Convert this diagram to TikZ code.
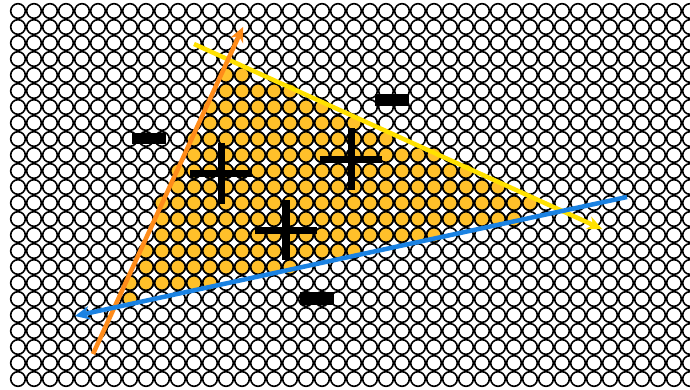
\documentclass[tikz,border=0pt]{standalone}
\definecolor{cellfill}{HTML}{FFC02A}
\definecolor{orangeline}{HTML}{FF8C1A}
\definecolor{yellowline}{HTML}{FFE100}
\definecolor{blueline}{HTML}{1A82E2}
\begin{document}
\begin{tikzpicture}[x=1pt,y=-1pt,
  cell/.style={draw=black,line width=1.6pt,fill=white},
  cellin/.style={draw=black,line width=1.6pt,fill=cellfill},
  ray/.style={line width=4.5pt},
  bar/.style={fill=black}]
\useasboundingbox (0,0) rectangle (690,390);
\clip (0,0) rectangle (690,390);
\fill[white] (0,0) rectangle (690,390);
% grid of circles
\foreach \c in {0,...,42}{\foreach \r in {0,...,23}{\draw[cell] (18+16*\c,11+16*\r) circle[radius=7.3];}}
% filled circles inside the triangle: row/first column/last column
\foreach \r/\a/\b in {4/13/14,5/13/17,6/12/19,7/12/21,8/11/23,9/11/26,10/10/28,11/10/30,12/9/32,13/9/31,14/9/26,15/8/21,16/8/17,17/7/12,18/7/7}{
  \foreach \c in {\a,...,\b}{\draw[cellin] (18+16*\c,11+16*\r) circle[radius=7.3];}}
% line tails, tips and arrow head points
\coordinate (o1) at (93,354);
\coordinate (o2) at (243,27);
\coordinate (oin) at (238.83,36.09);
\coordinate (ol) at (243.11,43.55);
\coordinate (or) at (230.39,37.71);
\coordinate (y1) at (194,44);
\coordinate (y2) at (602,229);
\coordinate (yin) at (592.89,224.87);
\coordinate (yl) at (591.23,216.44);
\coordinate (yr) at (585.45,229.18);
\coordinate (b1) at (627,197);
\coordinate (b2) at (75,316);
\coordinate (bin) at (84.78,313.89);
\coordinate (bl) at (91.13,319.68);
\coordinate (br) at (88.19,306.0);
\draw[ray,yellowline] (y1) -- (yin);
\fill[yellowline] (y2) -- (yl) -- (yin) -- (yr) -- cycle;
\draw[ray,orangeline] (o1) -- (oin);
\fill[orangeline] (o2) -- (ol) -- (oin) -- (or) -- cycle;
\draw[ray,blueline] (b1) -- (bin);
\fill[blueline] (b2) -- (bl) -- (bin) -- (br) -- cycle;
% plus signs
\fill[bar] (218,143) rectangle (225,204);
\fill[bar] (190,170) rectangle (252,177);
\fill[bar] (348,128) rectangle (355,190);
\fill[bar] (320,156.5) rectangle (382,163);
\fill[bar] (282,200) rectangle (289.5,260);
\fill[bar] (255,227) rectangle (317,234);
% minus signs
\fill[bar] (132,133) rectangle (166,144);
\fill[bar] (375,94) rectangle (409,106);
\fill[bar] (300,292) rectangle (334,305);
\end{tikzpicture}
\end{document}
